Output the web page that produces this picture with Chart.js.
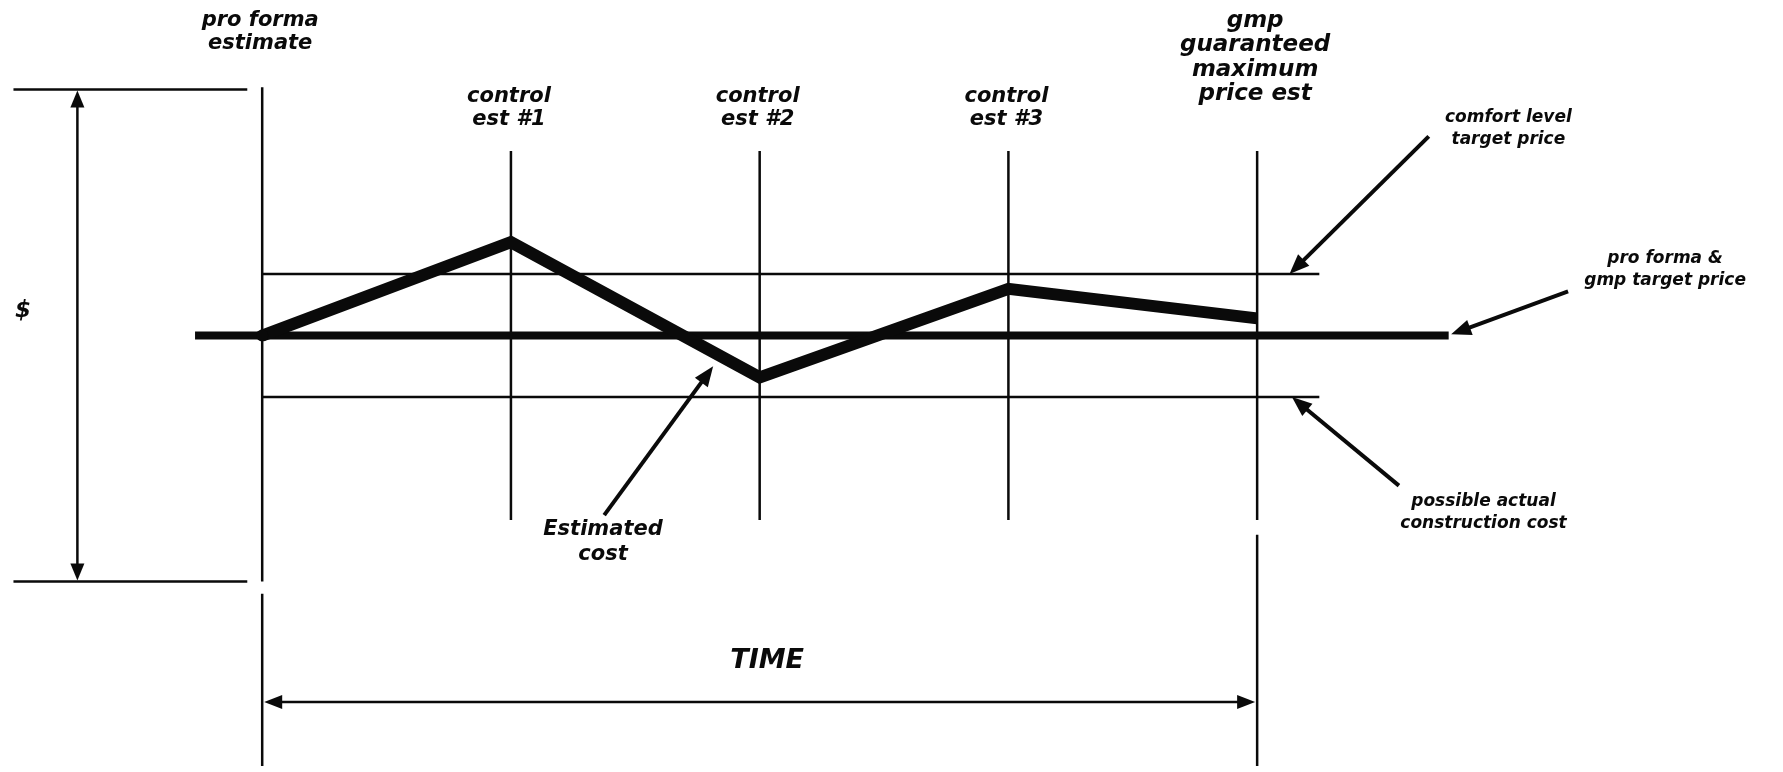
<!DOCTYPE html>
<html lang="en">
<head>
<meta charset="UTF-8">
<script src="https://cdn.jsdelivr.net/npm/chart.js"></script>
<style>
  html, body { margin: 0; padding: 0; background: #fff; }
  canvas { display: block; }
</style>
</head>
<body>
<canvas id="costChart" width="1783" height="772"></canvas>
<script>
// milestones on the time axis (x = index)
const milestones = [
  ['pro forma', 'estimate'],
  ['control', 'est #1'],
  ['control', 'est #2'],
  ['control', 'est #3'],
  ['gmp', 'guaranteed', 'maximum', 'price est']
];
const milestoneX = [0, 1, 2, 3, 4];

// estimated cost at each milestone ($, target price = 100)
const estimatedCost = [100, 138, 83, 119, 107];
const targetPrice = 100;
const comfortLevel = 125;
const possibleActual = 75;
const dollarRange = [0, 200];

// extents of the reference lines
const targetSpan = [-0.27, 4.77];
const bandSpan = [0, 4.25];
const dollarTickSpan = [-1, -0.06];
const guideTop = [201, 175, 175, 175, 175];
const guideBottom = [0, 25, 25, 25, 25];
const guideResume = [-5, null, null, null, 19];

// callouts: label lines, label centre, arrow tail -> tip
const callouts = [
  { text: ['comfort level', 'target price'], at: [5.01, 184], from: [4.69, 181], to: [4.13, 125] },
  { text: ['pro forma &', 'gmp target price'], at: [5.64, 127], from: [5.25, 118], to: [4.78, 100.5] },
  { text: ['possible actual', 'construction cost'], at: [4.91, 28], from: [4.57, 39], to: [4.14, 75] },
  { text: ['Estimated', 'cost'], at: [1.37, 16], from: [1.375, 27], to: [1.813, 87.5], big: true }
];

const black = '#0a0a0a';
const font = '"DejaVu Sans"';

function seg(x1, y1, x2, y2) {
  return [{ x: x1, y: y1 }, { x: x2, y: y2 }];
}

const guideData = [];
milestoneX.forEach(function (x, i) {
  guideData.push({ x: x, y: guideTop[i] }, { x: x, y: guideBottom[i] }, { x: x, y: null });
  if (guideResume[i] !== null) {
    guideData.push({ x: x, y: guideResume[i] }, { x: x, y: -80 }, { x: x, y: null });
  }
});

const datasets = [
  {
    label: 'Estimated cost',
    data: milestoneX.map((x, i) => ({ x: x, y: estimatedCost[i] })),
    borderWidth: 12,
    pointRadius: [6, 0, 0, 0, 0],
    pointBackgroundColor: black,
    pointBorderWidth: 0
  },
  { label: 'target', data: seg(targetSpan[0], targetPrice, targetSpan[1], targetPrice), borderWidth: 8 },
  { label: 'comfort', data: seg(bandSpan[0], comfortLevel, bandSpan[1], comfortLevel), borderWidth: 2.5 },
  { label: 'possible', data: seg(bandSpan[0], possibleActual, bandSpan[1], possibleActual), borderWidth: 2.5 },
  {
    label: 'dollar ticks',
    data: [
      { x: dollarTickSpan[0], y: dollarRange[1] }, { x: dollarTickSpan[1], y: dollarRange[1] }, { x: dollarTickSpan[1], y: null },
      { x: dollarTickSpan[0], y: dollarRange[0] }, { x: dollarTickSpan[1], y: dollarRange[0] }
    ],
    borderWidth: 2.5
  },
  { label: 'guides', data: guideData, borderWidth: 2.5 }
].map(function (d) {
  return Object.assign({
    showLine: true,
    borderColor: black,
    pointRadius: 0,
    borderCapStyle: 'butt',
    spanGaps: false,
    tension: 0
  }, d);
});

function arrowHead(ctx, x1, y1, x2, y2, len, half) {
  const a = Math.atan2(y2 - y1, x2 - x1);
  ctx.beginPath();
  ctx.moveTo(x2, y2);
  ctx.lineTo(x2 - len * Math.cos(a) + half * Math.sin(a), y2 - len * Math.sin(a) - half * Math.cos(a));
  ctx.lineTo(x2 - len * Math.cos(a) - half * Math.sin(a), y2 - len * Math.sin(a) + half * Math.cos(a));
  ctx.closePath();
  ctx.fill();
}

function arrow(ctx, x1, y1, x2, y2, width, len, half, both) {
  const a = Math.atan2(y2 - y1, x2 - x1);
  ctx.lineWidth = width;
  ctx.beginPath();
  ctx.moveTo(x1 + (both ? len * Math.cos(a) * 0.5 : 0), y1 + (both ? len * Math.sin(a) * 0.5 : 0));
  ctx.lineTo(x2 - len * Math.cos(a) * 0.5, y2 - len * Math.sin(a) * 0.5);
  ctx.stroke();
  arrowHead(ctx, x1, y1, x2, y2, len, half);
  if (both) arrowHead(ctx, x2, y2, x1, y1, len, half);
}

const labelsPlugin = {
  id: 'labels',
  afterDatasetsDraw(chart) {
    const ctx = chart.ctx;
    const xs = chart.scales.x, ys = chart.scales.y;
    const px = v => xs.getPixelForValue(v);
    const py = v => ys.getPixelForValue(v);
    ctx.save();
    ctx.fillStyle = black;
    ctx.strokeStyle = black;
    ctx.lineCap = 'butt';

    // $ double arrow and TIME double arrow
    arrow(ctx, px(-0.743), py(dollarRange[1]) + 1, px(-0.743), py(dollarRange[0]) - 1, 2.5, 17, 7, true);
    arrow(ctx, px(milestoneX[0]) + 2, py(-49), px(milestoneX[4]) - 2, py(-49), 2.5, 18, 7, true);

    ctx.textAlign = 'center';
    ctx.textBaseline = 'middle';

    // milestone labels
    milestones.forEach(function (lines, i) {
      const gmp = i === 4;
      const top = (i === 0 || gmp) ? 21 : 97;
      const step = gmp ? 24.5 : 23;
      ctx.font = 'italic bold ' + (gmp ? 23 : 21) + 'px ' + font;
      lines.forEach(function (t, k) {
        ctx.fillText(t, px(milestoneX[i]) - 2, top + k * step);
      });
    });

    // callouts
    callouts.forEach(function (c) {
      ctx.font = 'italic bold ' + (c.big ? 21 : 17) + 'px ' + font;
      const step = c.big ? 25 : 22;
      c.text.forEach(function (t, k) {
        ctx.fillText(t, px(c.at[0]), py(c.at[1]) + (k - 0.5) * step);
      });
      arrow(ctx, px(c.from[0]), py(c.from[1]), px(c.to[0]), py(c.to[1]), 4, 20, 8, false);
    });

    ctx.font = 'italic bold 27px ' + font;
    ctx.fillText('TIME', px(2.03), py(-31) + 3);
    ctx.font = 'italic bold 23px ' + font;
    ctx.fillText('$', px(-0.962), py(110));
    ctx.restore();
  }
};

new Chart(document.getElementById('costChart'), {
  type: 'scatter',
  data: { datasets: datasets },
  options: {
    responsive: false,
    animation: false,
    layout: { padding: 0 },
    plugins: { legend: { display: false }, tooltip: { enabled: false } },
    scales: {
      x: { type: 'linear', display: false, min: -1.03, max: 6.09 },
      y: { type: 'linear', display: false, min: -75, max: 234 }
    }
  },
  plugins: [labelsPlugin]
});
</script>
</body>
</html>
